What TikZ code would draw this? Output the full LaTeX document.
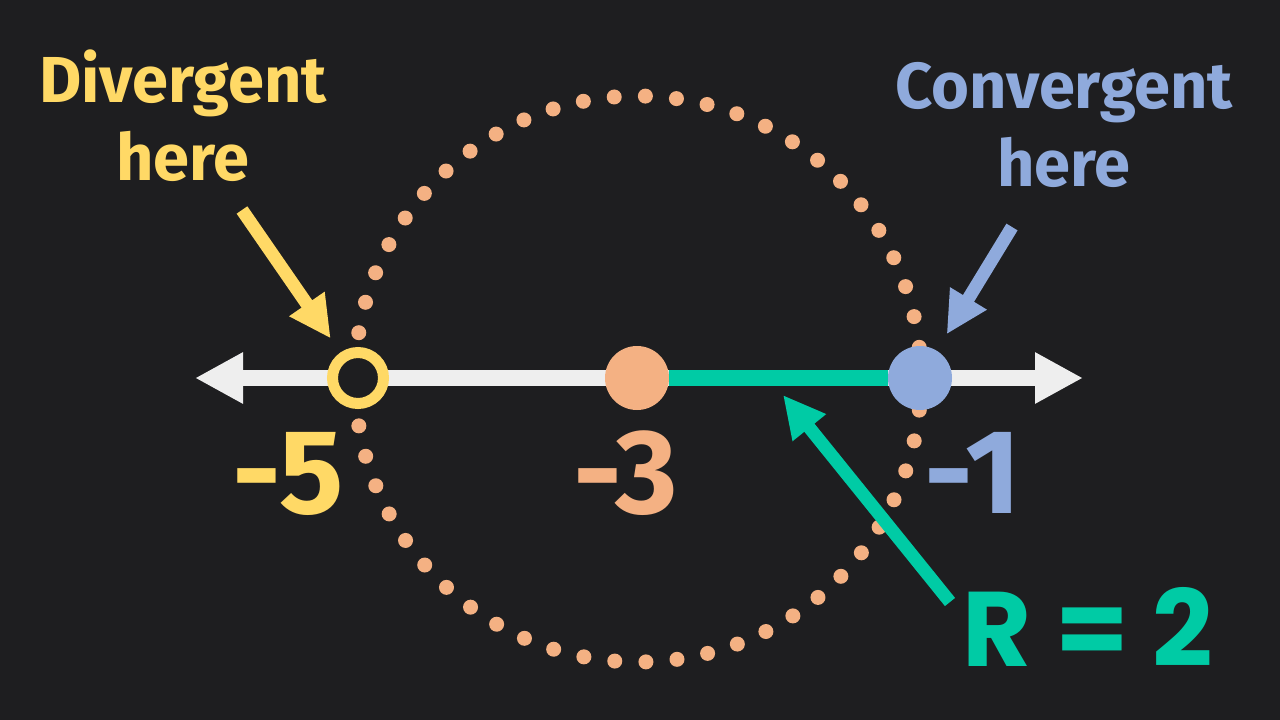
\documentclass[tikz,border=0pt]{standalone}
\usepackage{fontspec}
\setmainfont{Fira Sans}
\newfontfamily\numfont{Poppins}
\usepackage{xcolor}
\usetikzlibrary{arrows.meta,positioning,calc}
\definecolor{bgdark}{HTML}{1E1E20}
\definecolor{axisgray}{HTML}{EEEEEE}
\definecolor{goldyellow}{HTML}{FFD966}
\definecolor{peach}{HTML}{F4B183}
\definecolor{softblue}{HTML}{8FAADC}
\definecolor{radgreen}{HTML}{00CBA5}

\begin{document}
\begin{tikzpicture}[x=1pt, y=-1pt,
    hintlabel/.style={font=\bfseries\fontsize{65}{78}\selectfont, align=center, inner sep=0pt},
    numlabel/.style={font=\bfseries\fontsize{120}{120}\selectfont, anchor=base, inner sep=0pt},
    pointer/.style={line width=13pt, -{Triangle[length=42pt,width=40pt]}}]
        % Hintergrund
        \fill[bgdark] (0,0) rectangle (1280,720);

        % Konvergenzkreis (gepunktet)
        \coordinate (ctr) at (638,379);
        \draw[peach, line width=15pt, line cap=round, dash pattern=on 0pt off 31.19pt] (ctr) circle (283);

        % Zahlenstrahl
        \coordinate (lend) at (195,378);
        \coordinate (rend) at (1083,378);
        \draw[axisgray, line width=16pt, {Triangle[length=48pt,width=48pt]}-{Triangle[length=48pt,width=48pt]}] (lend) -- (rend);

        % Punkte -5, -3, -1
        \node[circle, draw=goldyellow, line width=11pt, fill=bgdark, minimum size=51pt, inner sep=0pt] (pm5) at (358,378) {};
        \node[circle, fill=peach, minimum size=64pt, inner sep=0pt] (pm3) at (637,378) {};
        \node[circle, fill=softblue, minimum size=64pt, inner sep=0pt] (pm1) at (920,378) {};
        \draw[radgreen, line width=16pt] (pm3) -- (pm1);

        % Beschriftungen
        \node[hintlabel, goldyellow] (divlabel) at (183,116) {Divergent\\here};
        \node[hintlabel, softblue] (convlabel) at (1064,125) {Convergent\\here};
        \node[numlabel, goldyellow] (n5) at (288,513) {-5};
        \node[numlabel, peach] (n3) at (626,513) {-3};
        \node[numlabel, softblue] (n1) at (973,513) {-1};
        \node[font=\numfont\bfseries\fontsize{106}{106}\selectfont, anchor=base, inner sep=0pt, radgreen] (rlabel) at (1088,666) {R\hspace{0.22em}=\hspace{0.22em}2};

        % Pfeile
        \coordinate (divtail) at (242,210);
        \coordinate (convtail) at (1012,227);
        \coordinate (rtail) at (950,602);
        \coordinate (rtip) at (783,395);
        \draw[pointer, goldyellow, shorten >=17pt] (divtail) -- (pm5);
        \draw[pointer, softblue, shorten >=19pt] (convtail) -- (pm1);
        \draw[pointer, radgreen] (rtail) -- (rtip);
    \end{tikzpicture}
\end{document}
